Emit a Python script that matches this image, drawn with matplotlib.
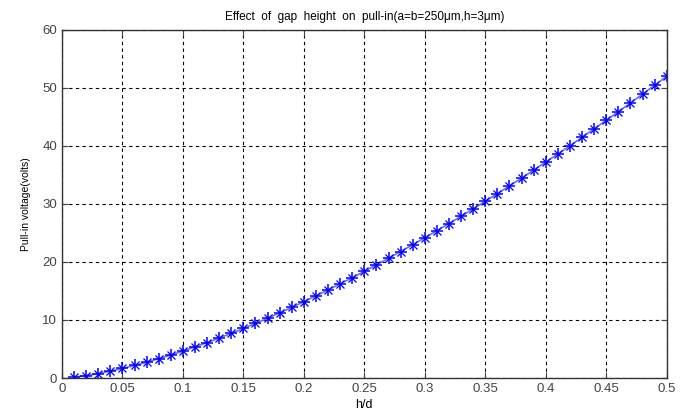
import numpy as np
import matplotlib.pyplot as plt

plt.rcParams['font.family'] = ['Liberation Sans', 'DejaVu Sans']

# h/d ratio and pull-in voltage
h_over_d = [0.01, 0.02, 0.03, 0.04, 0.05, 0.06, 0.07, 0.08, 0.09, 0.10,
            0.11, 0.12, 0.13, 0.14, 0.15, 0.16, 0.17, 0.18, 0.19, 0.20,
            0.21, 0.22, 0.23, 0.24, 0.25, 0.26, 0.27, 0.28, 0.29, 0.30,
            0.31, 0.32, 0.33, 0.34, 0.35, 0.36, 0.37, 0.38, 0.39, 0.40,
            0.41, 0.42, 0.43, 0.44, 0.45, 0.46, 0.47, 0.48, 0.49, 0.50]
pull_in = [0.15, 0.42, 0.76, 1.18, 1.64, 2.16, 2.72, 3.33, 3.97, 4.65,
           5.37, 6.11, 6.89, 7.70, 8.54, 9.41, 10.31, 11.23, 12.18, 13.16,
           14.15, 15.18, 16.22, 17.29, 18.38, 19.50, 20.63, 21.79, 22.97, 24.17,
           25.39, 26.62, 27.88, 29.16, 30.45, 31.77, 33.10, 34.45, 35.82, 37.21,
           38.61, 40.03, 41.47, 42.93, 44.40, 45.89, 47.39, 48.91, 50.45, 52.00]

x_ticks = [0, 0.05, 0.1, 0.15, 0.2, 0.25, 0.3, 0.35, 0.4, 0.45, 0.5]
x_tick_labels = ['0', '0.05', '0.1', '0.15', '0.2', '0.25', '0.3', '0.35', '0.4', '0.45', '0.5']
y_ticks = [0, 10, 20, 30, 40, 50, 60]

fig = plt.figure(figsize=(6.81, 4.17), dpi=100)
ax = fig.add_axes([0.091, 0.0935, 0.888, 0.835])

# matlab-style '-*' : thin line plus asterisk markers
ax.plot(h_over_d, pull_in, '-', color='#6a6aff', lw=1.2)
ax.plot(h_over_d, pull_in, ls='none', marker='+', color='blue', ms=8, mew=1.1)
ax.plot(h_over_d, pull_in, ls='none', marker='x', color='blue', ms=5.5, mew=0.9)

ax.set_xlim(0, 0.5)
ax.set_ylim(0, 60)
ax.set_xticks(x_ticks)
ax.set_xticklabels(x_tick_labels)
ax.set_yticks(y_ticks)
ax.tick_params(direction='in', top=True, right=True, labelsize=9.5, length=4, colors='#444444')
ax.grid(True, color='black', linestyle=(0, (3, 3)), linewidth=0.8)
for s in ax.spines.values():
    s.set_linewidth(1.0)
    s.set_color('#333333')

ax.set_title('Effect  of  gap  height  on  pull-in(a=b=250\u03bcm,h=3\u03bcm)', fontsize=8.5, pad=7)
ax.set_xlabel('h/d', fontsize=9, labelpad=3)
ax.set_ylabel('Pull-in voltage(volts)', fontsize=7.5, labelpad=8)

fig.savefig('out.png', dpi=100)
